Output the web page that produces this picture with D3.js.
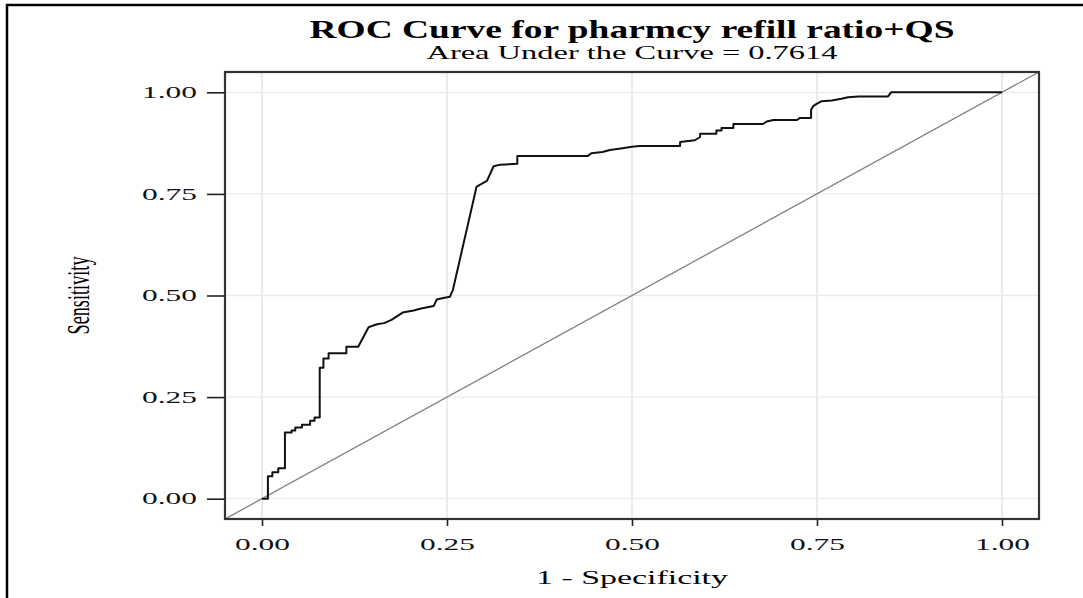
<!DOCTYPE html>
<html>
<head>
<meta charset="utf-8">
<script src="https://cdn.jsdelivr.net/npm/d3@7"></script>
<style>
  body { margin: 0; background: #fff; }
  svg { display: block; }
</style>
</head>
<body>
<div id="chart"></div>
<script>

// ROC curve points (1 - specificity, sensitivity)
var fpr = [0, 0.008, 0.008, 0.014, 0.014, 0.022, 0.022, 0.031, 0.031, 0.04, 0.04, 0.045, 0.045,
  0.054, 0.054, 0.065, 0.065, 0.071, 0.071, 0.078, 0.078, 0.083, 0.083, 0.09, 0.09, 0.114, 0.114,
  0.13, 0.144, 0.15, 0.157, 0.165, 0.175, 0.19, 0.205, 0.215, 0.232, 0.236, 0.245, 0.254, 0.258,
  0.29, 0.304, 0.313, 0.322, 0.345, 0.345, 0.44, 0.445, 0.46, 0.47, 0.485, 0.5, 0.51, 0.565, 0.565,
  0.585, 0.592, 0.592, 0.614, 0.614, 0.621, 0.621, 0.637, 0.637, 0.677, 0.682, 0.691, 0.723, 0.727,
  0.742, 0.742, 0.745, 0.75, 0.756, 0.77, 0.783, 0.792, 0.806, 0.846, 0.85, 1];
var tpr = [0, 0, 0.055, 0.055, 0.065, 0.065, 0.075, 0.075, 0.163, 0.163, 0.168, 0.168, 0.175,
  0.175, 0.182, 0.182, 0.192, 0.192, 0.2, 0.2, 0.322, 0.322, 0.345, 0.345, 0.358, 0.358, 0.374,
  0.374, 0.422, 0.426, 0.43, 0.432, 0.44, 0.458, 0.463, 0.468, 0.474, 0.49, 0.494, 0.497, 0.514,
  0.768, 0.782, 0.818, 0.822, 0.824, 0.843, 0.843, 0.85, 0.853, 0.858, 0.862, 0.866, 0.868, 0.868, 0.878,
  0.882, 0.89, 0.898, 0.898, 0.906, 0.906, 0.912, 0.912, 0.922, 0.922, 0.928, 0.932, 0.932, 0.937,
  0.937, 0.957, 0.966, 0.972, 0.978, 0.98, 0.984, 0.988, 0.99, 0.99, 1, 1];

var tickValues = [0, 0.25, 0.5, 0.75, 1];
var titleText = "ROC Curve for pharmcy refill ratio+QS";
var aucValue = 0.7614;
var xLabel = "1 - Specificity";
var yLabel = "Sensitivity";

var W = 1083, H = 598;
var panel = {left: 225, right: 1039, top: 72, bottom: 519};
var serif = "'Liberation Serif', 'Times New Roman', serif";

var svg = d3.select("#chart")
  .append("svg")
  .attr("width", W)
  .attr("height", H);

// outer frame (only top and left edges are inside the picture)
svg.append("rect")
  .attr("x", 7).attr("y", 5)
  .attr("width", W + 20).attr("height", H + 20)
  .attr("fill", "none")
  .attr("stroke", "#000")
  .attr("stroke-width", 2.5);

var x = d3.scaleLinear().domain([-0.05, 1.05]).range([panel.left, panel.right]);
var y = d3.scaleLinear().domain([-0.05, 1.05]).range([panel.bottom, panel.top]);

svg.append("clipPath").attr("id", "clip")
  .append("rect")
  .attr("x", panel.left).attr("y", panel.top)
  .attr("width", panel.right - panel.left)
  .attr("height", panel.bottom - panel.top);

// grid
var grid = svg.append("g");
grid.selectAll(".vg").data(tickValues).enter().append("line")
  .attr("x1", d => x(d)).attr("x2", d => x(d))
  .attr("y1", panel.top).attr("y2", panel.bottom)
  .attr("stroke", "#ebebeb").attr("stroke-width", 2);
grid.selectAll(".hg").data(tickValues).enter().append("line")
  .attr("y1", d => y(d)).attr("y2", d => y(d))
  .attr("x1", panel.left).attr("x2", panel.right)
  .attr("stroke", "#ebebeb").attr("stroke-width", 1.3);

// chance line
svg.append("line")
  .attr("clip-path", "url(#clip)")
  .attr("x1", x(-0.05)).attr("y1", y(-0.05))
  .attr("x2", x(1.05)).attr("y2", y(1.05))
  .attr("stroke", "#808080")
  .attr("stroke-width", 1.3);

// ROC curve
var pts = fpr.map((f, i) => [f, tpr[i]]);
svg.append("path")
  .datum(pts)
  .attr("fill", "none")
  .attr("stroke", "#111")
  .attr("stroke-width", 2)
  .attr("stroke-linejoin", "round")
  .attr("d", d3.line().x(d => x(d[0])).y(d => y(d[1])));

// axes
var fmt = d3.format(".2f");
var xAxis = svg.append("g")
  .attr("transform", "translate(0," + panel.bottom + ")")
  .call(d3.axisBottom(x).tickValues(tickValues).tickFormat(fmt).tickSize(7).tickPadding(13));
var yAxis = svg.append("g")
  .attr("transform", "translate(" + panel.left + ",0)")
  .call(d3.axisLeft(y).tickValues(tickValues).tickFormat(fmt).tickSize(18).tickPadding(10));

[xAxis, yAxis].forEach(function(g) {
  g.select(".domain").remove();
  g.selectAll(".tick line").attr("stroke", "#222").attr("stroke-width", 1.6);
  g.selectAll(".tick text")
    .attr("fill", "#111")
    .style("font-family", serif)
    .style("font-size", "16px")
    .attr("textLength", 55)
    .attr("lengthAdjust", "spacingAndGlyphs");
});

// panel border
svg.append("rect")
  .attr("x", panel.left).attr("y", panel.top)
  .attr("width", panel.right - panel.left)
  .attr("height", panel.bottom - panel.top)
  .attr("fill", "none")
  .attr("stroke", "#333")
  .attr("stroke-width", 2.2);

// titles
var cx = (panel.left + panel.right) / 2;
svg.append("text")
  .attr("x", cx).attr("y", 38)
  .attr("text-anchor", "middle")
  .style("font-family", serif)
  .style("font-weight", "bold")
  .style("font-size", "25px")
  .attr("textLength", 645)
  .attr("lengthAdjust", "spacingAndGlyphs")
  .text(titleText);

svg.append("text")
  .attr("x", cx).attr("y", 59)
  .attr("text-anchor", "middle")
  .style("font-family", serif)
  .style("font-size", "18px")
  .attr("textLength", 411)
  .attr("lengthAdjust", "spacingAndGlyphs")
  .text("Area Under the Curve = " + aucValue);

svg.append("text")
  .attr("x", cx).attr("y", 584)
  .attr("text-anchor", "middle")
  .style("font-family", serif)
  .style("font-size", "18px")
  .attr("textLength", 192)
  .attr("lengthAdjust", "spacingAndGlyphs")
  .text(xLabel);

svg.append("text")
  .attr("transform", "translate(89," + ((panel.top + panel.bottom) / 2) + ") scale(1.7,1) rotate(-90)")
  .attr("text-anchor", "middle")
  .style("font-family", serif)
  .style("font-size", "18px")
  .attr("textLength", 78)
  .attr("lengthAdjust", "spacingAndGlyphs")
  .text(yLabel);

</script>
</body>
</html>
